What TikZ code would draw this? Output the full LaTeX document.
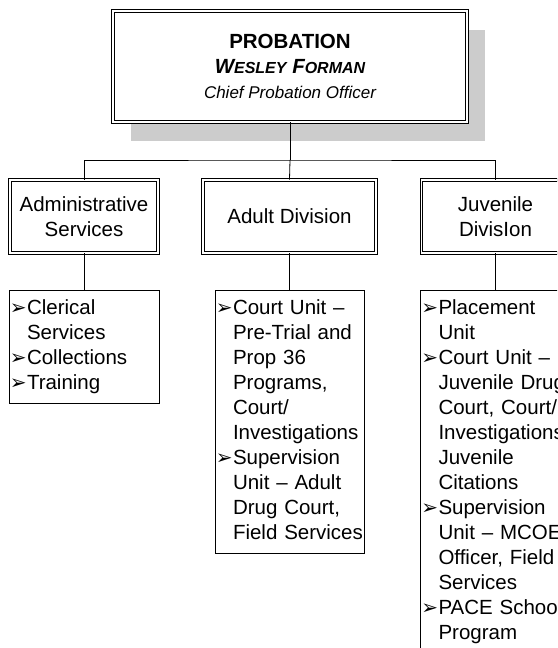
\documentclass[tikz,border=0pt]{standalone}
\usepackage{fontspec}
\setmainfont{Liberation Sans}
\newfontfamily\dingfont{DejaVu Sans}
\usetikzlibrary{shadows}

\newcommand{\bul}{\leavevmode\llap{\dingfont\fontsize{20}{25}\selectfont ➢\hspace{0.3pt}}}
\newcommand{\listfont}{\fontsize{20.5}{25}\selectfont}

\tikzset{
  topbox/.style={draw,double,line width=0.8pt,double distance=1.6pt,fill=white,
    minimum width=354pt,minimum height=111pt,align=center,font=\fontsize{17}{25}\selectfont,
    drop shadow={shadow xshift=18pt,shadow yshift=-19pt,fill=black!20,opacity=1}},
  unitbox/.style={draw,double,line width=0.8pt,double distance=1.6pt,
    minimum height=73pt,align=center,font=\listfont},
  listbox/.style={draw,line width=0.8pt,anchor=north,inner xsep=4pt,inner ysep=6.5pt,
    text width=142pt,align=left,font=\listfont},
  conn/.style={line width=0.8pt}
}

\begin{document}
\begin{tikzpicture}[x=1pt,y=-1pt]
\useasboundingbox (0,0) rectangle (557,648);
\clip (0,0) rectangle (557,648);

% chief
\node[topbox] (prob) at (290,66.5) {{\fontsize{20.5}{25}\selectfont\bfseries PROBATION}\\
  {\fontsize{20.5}{25}\selectfont\bfseries\itshape W{\fontsize{16}{25}\selectfont ESLEY} F{\fontsize{16}{25}\selectfont ORMAN}}\\
  {\itshape Chief Probation Officer}};

% divisions
\node[unitbox,minimum width=148pt] (admin) at (84,216.5) {Administrative\\Services};
\node[unitbox,minimum width=173pt] (adult) at (289.5,216.5) {Adult Division};
\node[unitbox,minimum width=148pt] (juv) at (495.5,216.5) {Juvenile\\DivisIon};

\coordinate (bus) at (290,160);
\draw[conn] (prob.south) -- (bus);
\draw[conn] (admin.north) |- (bus) -| (juv.north);
\draw[conn] (bus) -- (adult.north);

% units
\node[listbox] (adminlist) at (84,290) {\leftskip=14pt\strut
  \bul Clerical\\Services\\
  \bul Collections\\
  \bul Training\strut\par};
\node[listbox,text width=141pt] (adultlist) at (289.5,290) {\leftskip=14pt\strut
  \bul Court Unit --\\Pre-Trial and\\Prop 36\\Programs,\\Court/\\\mbox{Investigations}\\
  \bul Supervision\\Unit -- Adult\\Drug Court,\\\mbox{Field Services}\strut\par};
\node[listbox] (juvlist) at (495.5,290) {\leftskip=14pt\strut
  \bul Placement\\Unit\\
  \bul Court Unit --\\\mbox{Juvenile Drug}\\\mbox{Court, Court/}\\\mbox{Investigations}\\Juvenile\\Citations\\
  \bul Supervision\\\mbox{Unit -- MCOE}\\\mbox{Officer, Field}\\Services\\
  \bul \mbox{PACE School}\\Program\strut\par};

\draw[conn] (admin.south) -- (adminlist.north);
\draw[conn] (adult.south) -- (adultlist.north);
\draw[conn] (juv.south) -- (juvlist.north);
\end{tikzpicture}
\end{document}
